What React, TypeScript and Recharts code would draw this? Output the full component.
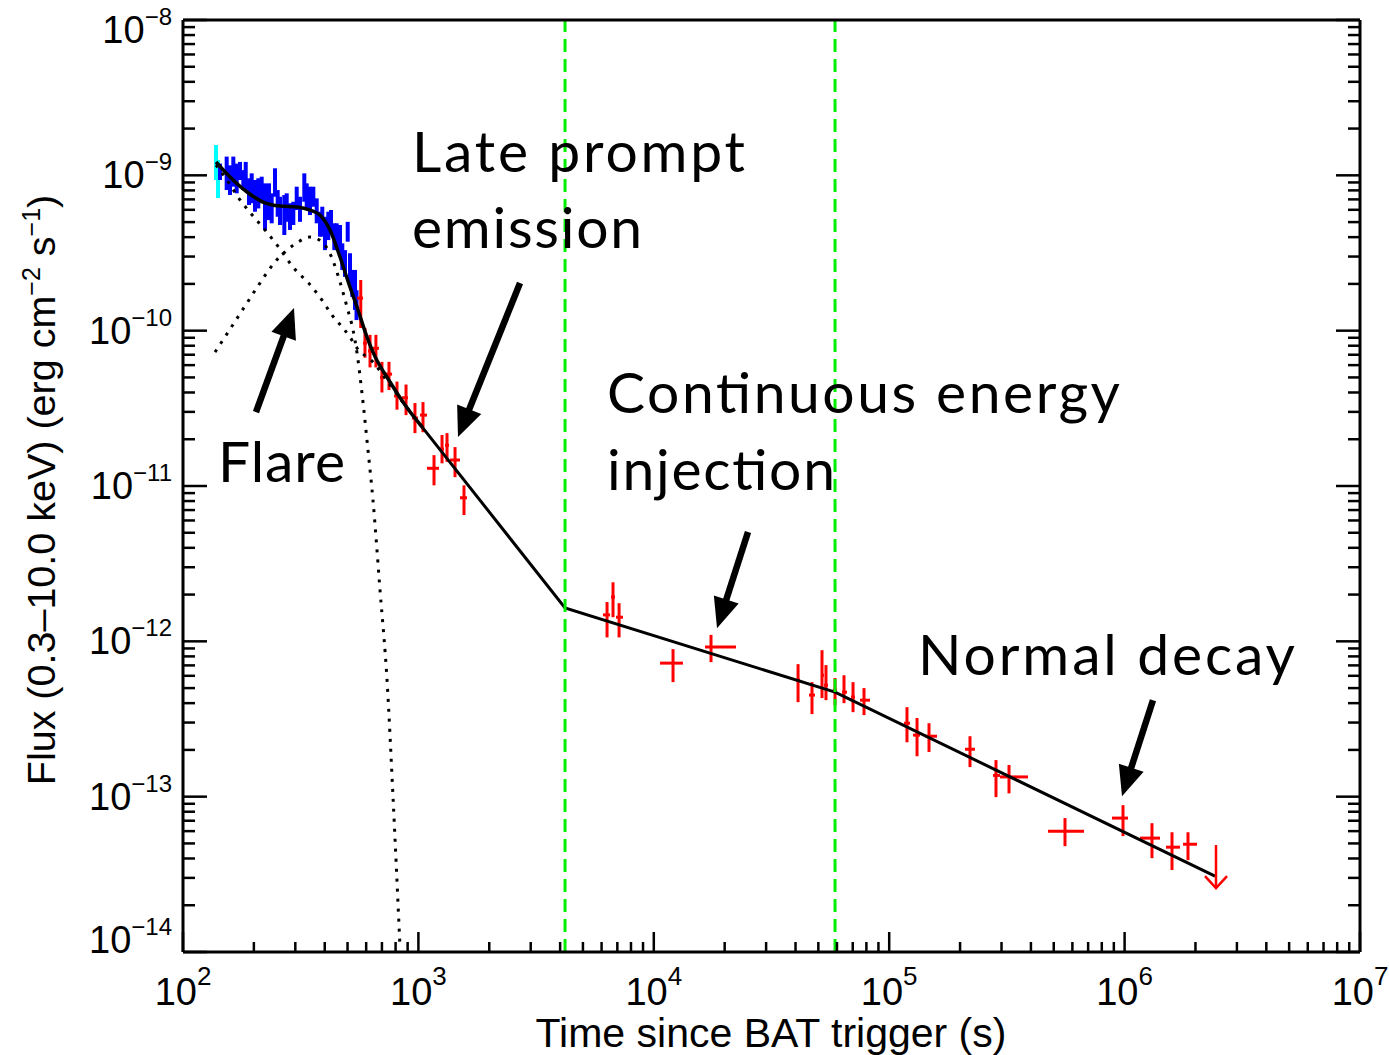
import React from 'react';
import { ComposedChart, Line, Scatter, XAxis, YAxis, ErrorBar, ReferenceLine } from 'recharts';

const W = 1389;
const H = 1055;

// axis decades and minor steps
const xTickExps = [2, 3, 4, 5, 6, 7];
const yTickExps = [-14, -13, -12, -11, -10, -9, -8];
const minorSteps = [2, 3, 4, 5, 6, 7, 8, 9];

// XRT WT mode, first bins (cyan): [t, flux, fluxLo, fluxHi]
const wtFirst: number[][] = [
  [138.1, 1.2e-9, 9.33e-10, 1.567e-9],
  [140.8, 9.4e-10, 7.14e-10, 1.255e-9],
];

// XRT WT mode (blue): [t, flux, fluxLo, fluxHi]
const wtPoints: number[][] = [
  [143.6, 1.05e-9, 9.33e-10, 1.19e-9],
  [153.3, 1.03e-9, 8.04e-10, 1.32e-9],
  [158.4, 9.3e-10, 7.47e-10, 1.16e-9],
  [163.6, 1.06e-9, 8.45e-10, 1.32e-9],
  [169.1, 9.5e-10, 7.66e-10, 1.19e-9],
  [174.6, 1.07e-9, 9.33e-10, 1.22e-9],
  [180.4, 9.3e-10, 8.04e-10, 1.08e-9],
  [184.7, 9.9e-10, 8.04e-10, 1.22e-9],
  [190.7, 7.85e-10, 6.44e-10, 9.57e-10],
  [195.8, 8.25e-10, 6.61e-10, 1.03e-9],
  [202.2, 7.4e-10, 5.83e-10, 9.33e-10],
  [208.9, 7.65e-10, 6.12e-10, 9.57e-10],
  [215.9, 8.05e-10, 6.61e-10, 9.8e-10],
  [223.0, 6.3e-10, 4.45e-10, 8.88e-10],
  [231.9, 6.75e-10, 5.15e-10, 8.88e-10],
  [238.1, 6.1e-10, 4.91e-10, 7.66e-10],
  [245.9, 9.0e-10, 7.28e-10, 1.11e-9],
  [252.5, 6.6e-10, 5.41e-10, 8.04e-10],
  [258.3, 5.9e-10, 4.79e-10, 7.28e-10],
  [269.4, 5.55e-10, 4.13e-10, 7.47e-10],
  [275.8, 6.2e-10, 5.02e-10, 7.66e-10],
  [284.8, 5.4e-10, 4.45e-10, 6.61e-10],
  [294.2, 5.7e-10, 4.79e-10, 6.76e-10],
  [304.1, 7.1e-10, 5.98e-10, 8.45e-10],
  [314.1, 6.05e-10, 5.02e-10, 7.28e-10],
  [327.6, 8.35e-10, 6.76e-10, 1.03e-9],
  [335.4, 7.3e-10, 5.98e-10, 8.88e-10],
  [346.4, 6.85e-10, 5.55e-10, 8.45e-10],
  [357.8, 7.3e-10, 6.28e-10, 8.45e-10],
  [369.8, 5.9e-10, 4.91e-10, 7.11e-10],
  [381.9, 4.85e-10, 4.03e-10, 5.83e-10],
  [390.6, 5.05e-10, 4.03e-10, 6.28e-10],
  [401.0, 4.2e-10, 3.3e-10, 5.41e-10],
  [414.2, 4.7e-10, 3.83e-10, 5.83e-10],
  [425.3, 5.05e-10, 4.24e-10, 5.98e-10],
  [439.3, 4.0e-10, 3.3e-10, 4.91e-10],
  [449.7, 4.1e-10, 3.39e-10, 4.91e-10],
  [464.5, 3.9e-10, 3.15e-10, 4.79e-10],
  [475.0, 3.0e-10, 2.46e-10, 3.65e-10],
  [487.7, 2.7e-10, 2.22e-10, 3.3e-10],
  [500.8, 4.35e-10, 3.74e-10, 5.02e-10],
  [512.1, 2.5e-10, 2.02e-10, 3.15e-10],
  [523.8, 2.0e-10, 1.65e-10, 2.46e-10],
  [537.8, 1.8e-10, 1.36e-10, 2.46e-10],
  [546.0, 1.46e-10, 1.17e-10, 1.82e-10],
];

// XRT PC mode (red): [t, tLo, tHi, flux, fluxLo, fluxHi]
const pcPoints: number[][] = [
  [569, 549, 582, 1.62e-10, 1.04e-10, 2.12e-10],
  [593, 582, 605, 8.3e-11, 6.7e-11, 1.04e-10],
  [623, 611, 635, 7.4e-11, 5.8e-11, 9.4e-11],
  [660, 641, 680, 7.7e-11, 5.8e-11, 9.4e-11],
  [700, 687, 714, 5.0e-11, 4.0e-11, 6.3e-11],
  [750, 721, 773, 5.25e-11, 4.15e-11, 6.3e-11],
  [811, 788, 835, 3.8e-11, 3.1e-11, 4.7e-11],
  [886, 852, 903, 3.7e-11, 2.86e-11, 4.5e-11],
  [967, 939, 996, 2.74e-11, 2.19e-11, 3.42e-11],
  [1046, 1016, 1088, 2.86e-11, 2.22e-11, 3.47e-11],
  [1165, 1088, 1223, 1.3e-11, 1.01e-11, 1.58e-11],
  [1260, 1235, 1284, 1.73e-11, 1.4e-11, 2.13e-11],
  [1323, 1297, 1349, 1.83e-11, 1.43e-11, 2.19e-11],
  [1431, 1362, 1502, 1.47e-11, 1.14e-11, 1.78e-11],
  [1562, 1502, 1609, 8.4e-12, 6.5e-12, 1.01e-11],
  [6330, 6080, 6520, 1.48e-12, 1.06e-12, 1.79e-12],
  [6710, 6580, 6840, 1.93e-12, 1.43e-12, 2.4e-12],
  [7120, 6910, 7400, 1.43e-12, 1.06e-12, 1.76e-12],
  [12070, 10630, 13300, 7.24e-13, 5.46e-13, 8.91e-13],
  [17500, 16500, 22350, 9.18e-13, 7.35e-13, 1.1e-12],
  [41000, 40190, 41800, 5.62e-13, 4.06e-13, 7.13e-13],
  [46990, 45630, 48400, 4.51e-13, 3.4e-13, 5.46e-13],
  [51820, 51310, 52840, 6.05e-13, 4.31e-13, 8.77e-13],
  [53880, 52840, 54950, 5.22e-13, 4.18e-13, 7.03e-13],
  [58870, 57730, 60030, 4.85e-13, 3.88e-13, 5.8e-13],
  [64270, 63020, 66190, 4.71e-13, 4.0e-13, 6.05e-13],
  [70200, 68840, 71570, 4.38e-13, 3.5e-13, 5.46e-13],
  [78160, 75160, 82890, 4.18e-13, 3.35e-13, 5.0e-13],
  [1.19e5, 1.156e5, 1.226e5, 2.97e-13, 2.24e-13, 3.77e-13],
  [1.313e5, 1.262e5, 1.352e5, 2.49e-13, 1.82e-13, 3.21e-13],
  [1.476e5, 1.419e5, 1.596e5, 2.45e-13, 1.94e-13, 2.97e-13],
  [2.204e5, 2.099e5, 2.314e5, 2.02e-13, 1.55e-13, 2.45e-13],
  [2.842e5, 2.761e5, 2.956e5, 1.37e-13, 9.93e-14, 1.72e-13],
  [3.228e5, 2.956e5, 3.888e5, 1.34e-13, 1.05e-13, 1.6e-13],
  [5.582e5, 4.726e5, 6.724e5, 6.0e-14, 4.8e-14, 7.28e-14],
  [9.845e5, 8.842e5, 1.034e6, 7.28e-14, 5.57e-14, 8.82e-14],
  [1.307e6, 1.163e6, 1.414e6, 5.41e-14, 4.02e-14, 6.75e-14],
  [1.59e6, 1.5e6, 1.719e6, 4.73e-14, 3.37e-14, 5.9e-14],
  [1.859e6, 1.771e6, 2.03e6, 4.94e-14, 3.9e-14, 5.9e-14],
];

// upper limit: [t, flux]
const pcUpperLimit: number[][] = [[2.445e6, 4.88e-14]];

// best fit model: smooth early part and broken power law
const fitSmooth: number[][] = [
  [138.1, 1.218e-9], [158.4, 9.75e-10], [187.0, 7.81e-10], [218.8, 6.73e-10],
  [258.3, 6.34e-10], [305.0, 6.25e-10], [346.4, 5.98e-10], [381.9, 5.55e-10],
  [421.2, 4.44e-10], [464.5, 2.98e-10], [512.1, 1.91e-10], [548.6, 1.42e-10],
  [604.9, 9.1e-11], [641.3, 7.28e-11], [757.6, 4.67e-11], [877.4, 3.32e-11],
  [1046, 2.36e-11],
];
const fitBroken: number[][] = [
  [1046, 2.36e-11], [4197, 1.64e-12], [58870, 4.71e-13], [2.421e6, 3.08e-14],
];

// model components (dotted)
const steepDecay: number[][] = [
  [138.1, 1.165e-9], [153.8, 9.33e-10], [171.3, 7.25e-10], [188.8, 5.98e-10],
  [223.0, 4.45e-10], [250.8, 3.56e-10], [293.3, 2.57e-10], [353.2, 1.91e-10],
  [389.5, 1.57e-10], [429.5, 1.26e-10], [478.4, 1.04e-10], [512.1, 9.1e-11],
  [548.6, 7.73e-11], [641.3, 6.28e-11], [757.6, 4.47e-11], [877.4, 3.32e-11],
  [1046, 2.36e-11],
];
const flareModel: number[][] = [
  [136.8, 7.28e-11], [158.4, 1.023e-10], [183.4, 1.44e-10], [212.3, 2.025e-10],
  [245.9, 2.77e-10], [276.6, 3.3e-10], [308.0, 3.72e-10], [346.4, 4.01e-10],
  [389.5, 3.72e-10], [429.5, 2.93e-10], [464.5, 2.06e-10], [497.4, 1.42e-10],
  [527.6, 1.01e-10], [548.6, 7.18e-11], [575.9, 3.96e-11], [610.8, 1.7e-11],
  [641.3, 8.11e-12], [686.9, 2.14e-12], [735.8, 5.62e-13], [780.2, 9.93e-14],
  [835.4, 1.07e-14],
];

// break times (green dashed)
const breakTimes = [4197, 58870];

// annotation arrows: tail [t, f] -> tip [t, f]
const arrowTails: number[][] = [[204.2, 2.99e-11], [2702, 2.025e-10], [25130, 5.05e-12], [1.32e6, 4.18e-13]];
const arrowTips: number[][] = [[296.1, 1.398e-10], [1473, 2.065e-11], [18560, 1.216e-12], [9.75e5, 1.007e-13]];

// annotation texts: [text, x, baseline, width]
const notes: [string, number, number, number][] = [
  ['Late prompt', 412, 172, 333],
  ['emission', 412, 248, 230],
  ['Flare', 218, 482, 127],
  ['Continuous energy', 607, 413, 513],
  ['injection', 607, 490, 228],
  ['Normal decay', 918, 675, 377],
];

const xMajor = xTickExps.map((e) => 10 ** e);
const xTicks = [...xMajor, ...xTickExps.slice(0, -1).flatMap((e) => minorSteps.map((m) => m * 10 ** e))];
const yMajor = yTickExps.map((e) => 10 ** e);
const yTicks = [...yMajor, ...yTickExps.slice(0, -1).flatMap((e) => minorSteps.map((m) => m * 10 ** e))];

const wtFirstData = wtFirst.map(([t, f, lo, hi]) => ({ t, f, ey: [f - lo, hi - f] }));
const wtData = wtPoints.map(([t, f, lo, hi]) => ({ t, f, ey: [f - lo, hi - f] }));
const pcData = pcPoints.map(([t, tlo, thi, f, flo, fhi]) => ({ t, f, ex: [t - tlo, thi - t], ey: [f - flo, fhi - f] }));
const ulData = pcUpperLimit.map(([t, f]) => ({ t, f }));
const toXY = (arr: number[][]) => arr.map(([t, f]) => ({ t, f }));

const FONT = '"Liberation Sans", Arial, Helvetica, sans-serif';

const isMajor = (v: number) => {
  const lg = Math.log10(v);
  return Math.abs(lg - Math.round(lg)) < 1e-6;
};

const XTickBottom = ({ x, y, payload }: any) => {
  const v = payload.value;
  const major = isMajor(v);
  return (
    <g>
      <line x1={x} x2={x} y1={y} y2={y - (major ? 20 : 10)} stroke="#000" strokeWidth={2.5} />
      {major ? (
        <text x={x} y={y + 53} textAnchor="middle" fontSize={38} fontFamily={FONT} fill="#000">
          10<tspan dy={-20} fontSize={26}>{Math.round(Math.log10(v))}</tspan>
        </text>
      ) : null}
    </g>
  );
};

const XTickTop = ({ x, y, payload }: any) => {
  const major = isMajor(payload.value);
  return <line x1={x} x2={x} y1={y} y2={y + (major ? 20 : 10)} stroke="#000" strokeWidth={2.5} />;
};

const YTickLeft = ({ x, y, payload }: any) => {
  const v = payload.value;
  const major = isMajor(v);
  const e = Math.round(Math.log10(v));
  const shift = e === -8 ? 10 : e === -14 ? -12 : 0;
  return (
    <g>
      <line x1={x} x2={x + (major ? 24 : 12)} y1={y} y2={y} stroke="#000" strokeWidth={2.5} />
      {major ? (
        <text x={172} y={y + 13 + shift} textAnchor="end" fontSize={38} fontFamily={FONT} fill="#000">
          10<tspan dy={-18} fontSize={24}>{'\u2212' + Math.abs(e)}</tspan>
        </text>
      ) : null}
    </g>
  );
};

const YTickRight = ({ x, y, payload }: any) => {
  const major = isMajor(payload.value);
  return <line x1={x} x2={x - (major ? 24 : 12)} y1={y} y2={y} stroke="#000" strokeWidth={2.5} />;
};

const ArrowShape = (p: any) => {
  const { x1, y1, x2, y2 } = p;
  const dx = x2 - x1;
  const dy = y2 - y1;
  const len = Math.hypot(dx, dy) || 1;
  const ux = dx / len;
  const uy = dy / len;
  const head = 30;
  const half = 13;
  const bx = x2 - ux * head;
  const by = y2 - uy * head;
  return (
    <g>
      <line x1={x1} y1={y1} x2={bx + ux * 4} y2={by + uy * 4} stroke="#000" strokeWidth={6.5} />
      <polygon points={`${x2},${y2} ${bx - uy * half},${by + ux * half} ${bx + uy * half},${by - ux * half}`} fill="#000" />
    </g>
  );
};

const UpperLimitShape = ({ cx, cy }: any) => (
  <g stroke="#ff0000" strokeWidth={2.5} fill="none">
    <line x1={cx} y1={cy} x2={cx} y2={cy + 43} />
    <polyline points={`${cx - 11},${cy + 31} ${cx},${cy + 43} ${cx + 11},${cy + 31}`} />
  </g>
);

const NoDot = () => <g />;

export default function App() {
  return (
    <div style={{ position: 'absolute', left: 0, top: 0, width: W, height: H, background: '#fff', fontFamily: FONT }}>
      <ComposedChart width={W} height={H} margin={{ top: 0, right: 0, bottom: 0, left: 0 }}>
        <XAxis
          xAxisId="b"
          dataKey="t"
          type="number"
          scale="log"
          domain={[100, 1e7]}
          allowDataOverflow
          ticks={xTicks}
          interval={0}
          tick={XTickBottom}
          tickLine={false}
          tickSize={0}
          tickMargin={0}
          height={103}
          axisLine={{ stroke: '#000', strokeWidth: 3 }}
        />
        <XAxis
          xAxisId="t"
          orientation="top"
          type="number"
          scale="log"
          domain={[100, 1e7]}
          allowDataOverflow
          ticks={xTicks}
          interval={0}
          tick={XTickTop}
          tickLine={false}
          tickSize={0}
          tickMargin={0}
          height={20}
          axisLine={{ stroke: '#000', strokeWidth: 3 }}
        />
        <YAxis
          yAxisId="l"
          dataKey="f"
          type="number"
          scale="log"
          domain={[1e-14, 1e-8]}
          allowDataOverflow
          ticks={yTicks}
          interval={0}
          tick={YTickLeft}
          tickLine={false}
          tickSize={0}
          tickMargin={0}
          width={183}
          axisLine={{ stroke: '#000', strokeWidth: 3 }}
        />
        <YAxis
          yAxisId="r"
          orientation="right"
          type="number"
          scale="log"
          domain={[1e-14, 1e-8]}
          allowDataOverflow
          ticks={yTicks}
          interval={0}
          tick={YTickRight}
          tickLine={false}
          tickSize={0}
          tickMargin={0}
          width={29}
          axisLine={{ stroke: '#000', strokeWidth: 3 }}
        />

        <Scatter xAxisId="b" yAxisId="l" data={wtFirstData} shape={NoDot} isAnimationActive={false}>
          <ErrorBar dataKey="ey" direction="y" width={0} stroke="#00ffff" strokeWidth={4} isAnimationActive={false} />
        </Scatter>
        <Scatter xAxisId="b" yAxisId="l" data={wtData} shape={NoDot} isAnimationActive={false}>
          <ErrorBar dataKey="ey" direction="y" width={0} stroke="#0000ff" strokeWidth={4} isAnimationActive={false} />
        </Scatter>
        <Scatter xAxisId="b" yAxisId="l" data={pcData} shape={NoDot} isAnimationActive={false}>
          <ErrorBar dataKey="ey" direction="y" width={0} stroke="#ff0000" strokeWidth={3} isAnimationActive={false} />
          <ErrorBar dataKey="ex" direction="x" width={0} stroke="#ff0000" strokeWidth={3} isAnimationActive={false} />
        </Scatter>
        <Scatter xAxisId="b" yAxisId="l" data={ulData} shape={UpperLimitShape} isAnimationActive={false} />

        <Line xAxisId="b" yAxisId="l" data={toXY(steepDecay)} dataKey="f" type="monotone" stroke="#000" strokeWidth={3} strokeDasharray="3 7" dot={false} isAnimationActive={false} />
        <Line xAxisId="b" yAxisId="l" data={toXY(flareModel)} dataKey="f" type="monotone" stroke="#000" strokeWidth={3} strokeDasharray="3 7" dot={false} isAnimationActive={false} />
        <Line xAxisId="b" yAxisId="l" data={toXY(fitSmooth)} dataKey="f" type="monotone" stroke="#000" strokeWidth={3.5} dot={false} isAnimationActive={false} />
        <Line xAxisId="b" yAxisId="l" data={toXY(fitBroken)} dataKey="f" type="linear" stroke="#000" strokeWidth={3} dot={false} isAnimationActive={false} />

        {breakTimes.map((bt) => (
          <ReferenceLine key={bt} xAxisId="b" yAxisId="l" x={bt} stroke="#00ee00" strokeWidth={3} strokeDasharray="13 7" />
        ))}
        {arrowTails.map((tail, i) => (
          <ReferenceLine
            key={'arr' + i}
            xAxisId="b"
            yAxisId="l"
            segment={[{ x: tail[0], y: tail[1] }, { x: arrowTips[i][0], y: arrowTips[i][1] }]}
            shape={ArrowShape}
            ifOverflow="visible"
          />
        ))}
      </ComposedChart>

      <svg width={W} height={H} style={{ position: 'absolute', left: 0, top: 0, pointerEvents: 'none' }}>
        {notes.map(([txt, x, y, w]) => (
          <text key={txt} x={x} y={y} fontSize={57} textLength={w} lengthAdjust="spacing" fontFamily='Lato, "Open Sans", sans-serif' fill="#000">
            {txt}
          </text>
        ))}
        <text x={771} y={1047} textAnchor="middle" fontSize={41} fontFamily={FONT} fill="#000">
          Time since BAT trigger (s)
        </text>
        <text transform="translate(55,490) rotate(-90)" textAnchor="middle" fontSize={39.5} fontFamily={FONT} fill="#000">
          Flux (0.3–10.0 keV) (erg cm<tspan dy={-15} fontSize={25}>{'\u22122'}</tspan>
          <tspan dy={15}> s</tspan>
          <tspan dy={-15} fontSize={25}>{'\u22121'}</tspan>
          <tspan dy={15}>)</tspan>
        </text>
      </svg>
    </div>
  );
}
